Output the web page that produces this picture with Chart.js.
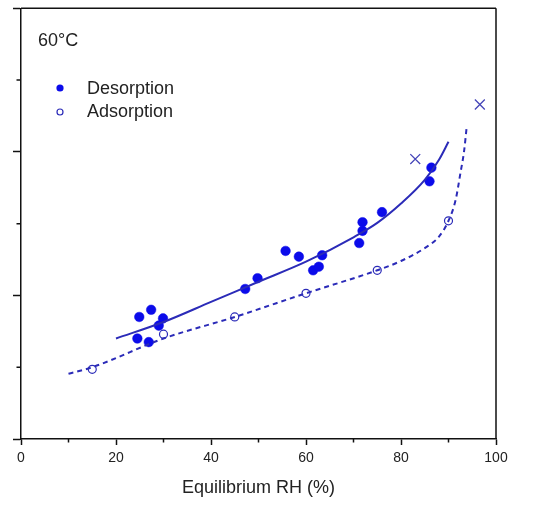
<!DOCTYPE html>
<html lang="en">
<head>
<meta charset="utf-8">
<title>Sorption isotherm 60°C</title>
<script src="https://cdn.jsdelivr.net/npm/chart.js"></script>
<style>
  body { margin: 0; background: #fff; }
  #wrap { width: 541px; height: 505px; }
</style>
</head>
<body>
<div id="wrap"><canvas id="isoChart"></canvas></div>

<script>
// measured points (equilibrium RH %, moisture content in axis units)
const desorpRH = [24.5, 24.9, 26.9, 27.4, 29.0, 29.9, 47.2, 49.8, 55.7, 58.5, 61.5, 62.7, 63.4, 71.2, 71.9, 71.9, 76.0, 86.0, 86.4];
const desorpM  = [1.40, 1.70, 1.35, 1.80, 1.58, 1.68, 2.09, 2.24, 2.62, 2.54, 2.35, 2.40, 2.56, 2.73, 2.90, 3.02, 3.16, 3.59, 3.78];

const adsorpRH = [15, 30, 45, 60, 75, 90];
const adsorpM  = [0.97, 1.46, 1.70, 2.03, 2.35, 3.04];

// excluded points (crosses)
const excludedRH = [83.0, 96.6];
const excludedM  = [3.90, 4.66];

// fitted curves
const desorpFitRH = [20, 30, 40, 50, 60, 70, 75, 80, 85, 88, 90];
const desorpFitM  = [1.40, 1.63, 1.91, 2.19, 2.47, 2.81, 3.01, 3.28, 3.61, 3.89, 4.14];

const adsorpFitRH = [10, 15, 30, 45, 60, 75, 80, 85, 88, 90, 91.5, 92.5, 93.3, 93.8];
const adsorpFitM  = [0.91, 1.00, 1.40, 1.70, 2.03, 2.35, 2.48, 2.66, 2.82, 3.04, 3.33, 3.70, 4.02, 4.33];

const xTicks = [0, 20, 40, 60, 80, 100];
const xMinorTicks = [10, 30, 50, 70, 90];
const yMinorTicks = [1, 3, 5];

const FONT = "'Liberation Sans', Arial, sans-serif";
const LINE_BLUE = "#2b2bb8";
const DOT_BLUE = "#0b0bea";

function toXY(xs, ys) {
    return xs.map((x, i) => ({ x: x, y: ys[i] }));
}

// frame, minor ticks, label and legend
const decorations = {
    id: "decorations",
    afterDraw(chart) {
        const ctx = chart.ctx;
        const { left, right, top, bottom } = chart.chartArea;
        const xs = chart.scales.x, ys = chart.scales.y;
        ctx.save();
        ctx.strokeStyle = "#111";
        ctx.lineWidth = 1.5;
        ctx.beginPath();
        ctx.moveTo(left, top); ctx.lineTo(right, top);
        ctx.moveTo(right, top); ctx.lineTo(right, bottom);
        xMinorTicks.forEach(v => {
            const px = xs.getPixelForValue(v);
            ctx.moveTo(px, bottom); ctx.lineTo(px, bottom + 3.5);
        });
        yMinorTicks.forEach(v => {
            const py = ys.getPixelForValue(v);
            ctx.moveTo(left, py); ctx.lineTo(left - 4.5, py);
        });
        ctx.stroke();

        ctx.fillStyle = "#222";
        ctx.font = "18px " + FONT;
        ctx.textBaseline = "middle";
        ctx.textAlign = "left";
        ctx.fillText("60\u00B0C", 38, 41);
        ctx.fillText("Desorption", 87, 89);
        ctx.fillText("Adsorption", 87, 112);

        ctx.beginPath();
        ctx.fillStyle = DOT_BLUE;
        ctx.arc(60, 88, 3.6, 0, Math.PI * 2);
        ctx.fill();
        ctx.beginPath();
        ctx.strokeStyle = LINE_BLUE;
        ctx.lineWidth = 1.2;
        ctx.arc(60, 112, 3, 0, Math.PI * 2);
        ctx.stroke();
        ctx.restore();
    }
};

new Chart(document.getElementById("isoChart"), {
    type: "scatter",
    data: {
        datasets: [
            {
                label: "Desorption fit",
                data: toXY(desorpFitRH, desorpFitM),
                showLine: true,
                borderColor: LINE_BLUE,
                borderWidth: 2,
                pointRadius: 0,
                cubicInterpolationMode: "monotone"
            },
            {
                label: "Adsorption fit",
                data: toXY(adsorpFitRH, adsorpFitM),
                showLine: true,
                borderColor: LINE_BLUE,
                borderWidth: 2,
                borderDash: [5, 4],
                pointRadius: 0,
                cubicInterpolationMode: "monotone"
            },
            {
                label: "Desorption",
                data: toXY(desorpRH, desorpM),
                pointRadius: 4.8,
                pointBackgroundColor: DOT_BLUE,
                pointBorderColor: DOT_BLUE,
                pointBorderWidth: 0.5
            },
            {
                label: "Adsorption",
                data: toXY(adsorpRH, adsorpM),
                pointRadius: 4,
                pointBackgroundColor: "transparent",
                pointBorderColor: LINE_BLUE,
                pointBorderWidth: 1.2
            },
            {
                label: "Excluded",
                data: toXY(excludedRH, excludedM),
                pointStyle: "crossRot",
                pointRadius: 7,
                pointBorderColor: "#4444b8",
                pointBorderWidth: 1.3
            }
        ]
    },
    options: {
        responsive: true,
        maintainAspectRatio: false,
        animation: false,
        layout: { padding: { left: 0, right: 45, top: 8, bottom: 0 } },
        plugins: {
            legend: { display: false },
            tooltip: { enabled: false }
        },
        scales: {
            x: {
                type: "linear",
                min: 0,
                max: 100,
                afterBuildTicks: axis => { axis.ticks = xTicks.map(v => ({ value: v })); },
                ticks: {
                    color: "#222",
                    padding: 5,
                    maxRotation: 0,
                    font: { family: FONT, size: 14 }
                },
                grid: {
                    drawOnChartArea: false,
                    drawTicks: true,
                    tickLength: 6,
                    tickWidth: 1.5,
                    tickColor: "#111"
                },
                border: { display: true, color: "#111", width: 1.5 },
                title: {
                    display: true,
                    text: "Equilibrium RH (%)",
                    color: "#222",
                    font: { family: FONT, size: 18 },
                    padding: { top: 4, bottom: 6 }
                },
                afterFit: axis => { axis.height = 66; }
            },
            y: {
                type: "linear",
                min: 0,
                max: 6,
                ticks: { display: false, stepSize: 2 },
                grid: {
                    drawOnChartArea: false,
                    drawTicks: true,
                    tickLength: 8,
                    tickWidth: 1.5,
                    tickColor: "#111"
                },
                border: { display: true, color: "#111", width: 1.5 },
                afterFit: axis => { axis.width = 21; }
            }
        }
    },
    plugins: [decorations]
});
</script>
</body>
</html>
